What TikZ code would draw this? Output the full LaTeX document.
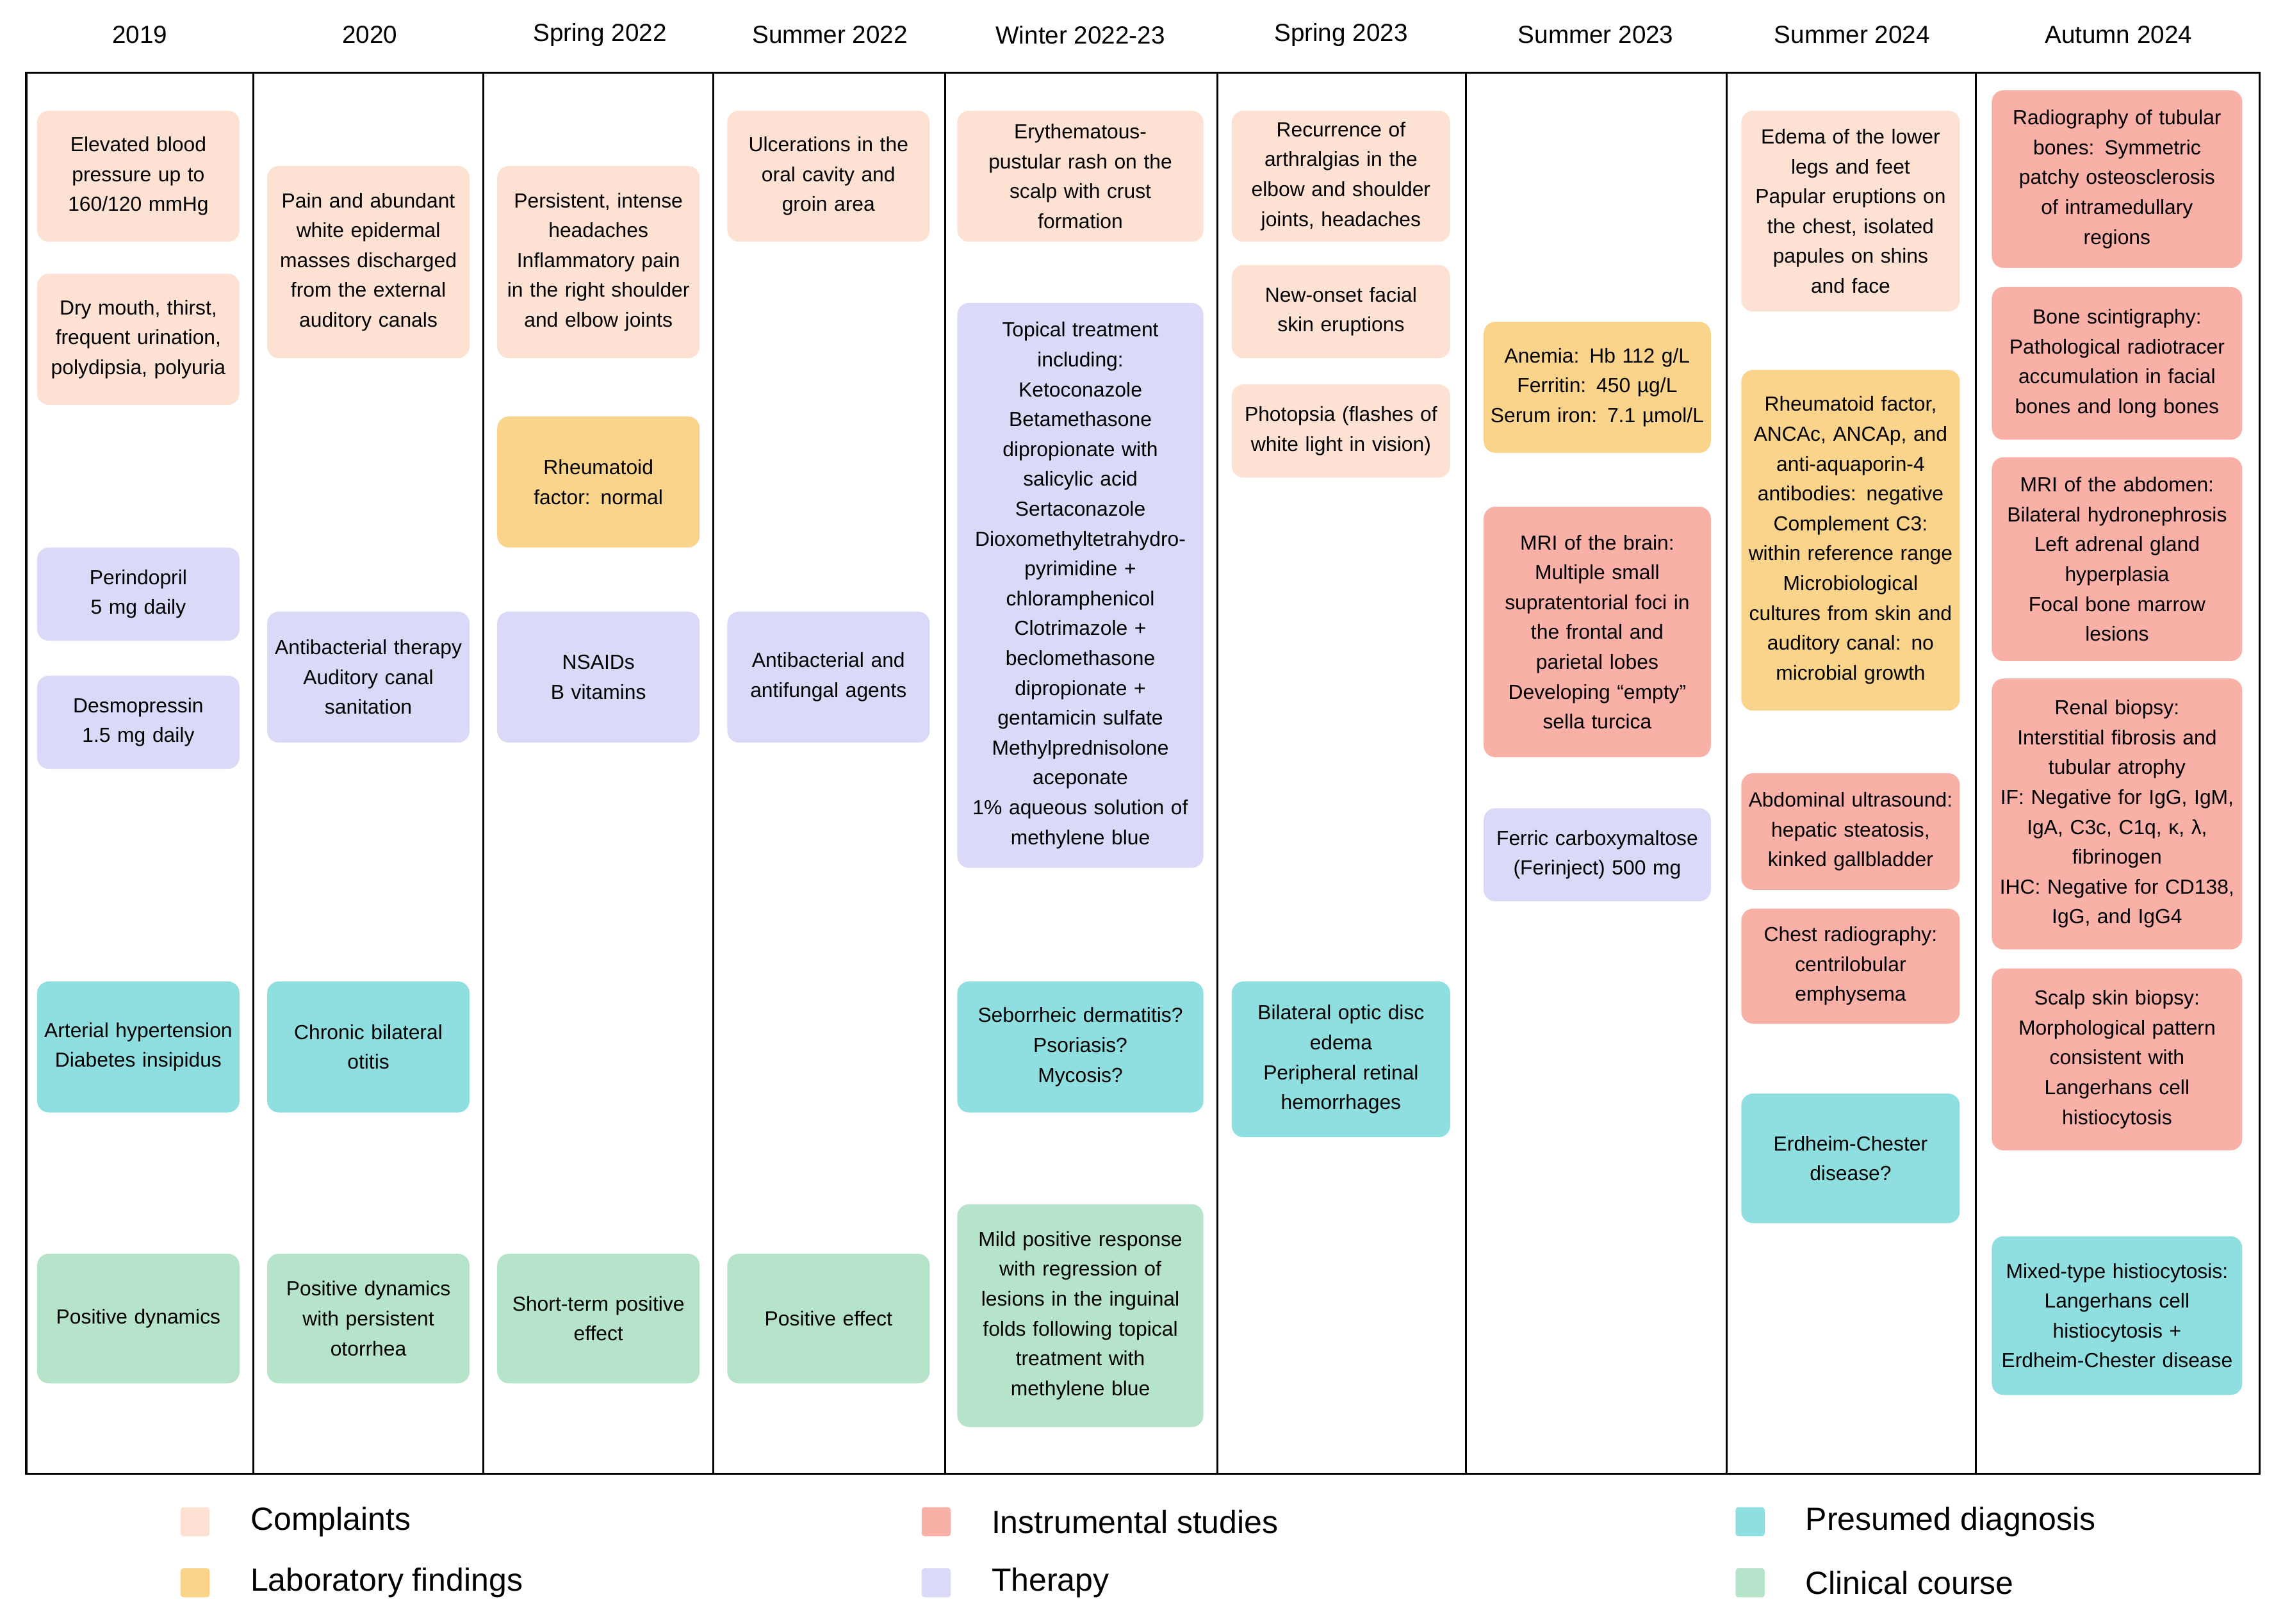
\documentclass[tikz,border=0pt]{standalone}
\usepackage{fontspec}
\setmainfont{Liberation Sans}
\definecolor{cC}{HTML}{FDE2D3}
\definecolor{cL}{HTML}{FBD48C}
\definecolor{cI}{HTML}{F8B0A7}
\definecolor{cT}{HTML}{DADAF8}
\definecolor{cD}{HTML}{90DFE0}
\definecolor{cK}{HTML}{B5E4CA}
\tikzset{bxs/.style={rounded corners=4pt,draw=none,align=center,inner sep=0pt,font=\fontsize{7}{10.25}\selectfont},
C/.style={bxs,fill=cC},L/.style={bxs,fill=cL},I/.style={bxs,fill=cI},T/.style={bxs,fill=cT},D/.style={bxs,fill=cD},K/.style={bxs,fill=cK},
hdr/.style={font=\fontsize{8.5}{10}\selectfont},
leg/.style={font=\fontsize{11}{13}\selectfont,anchor=west},
sq/.style={minimum size=10pt,inner sep=0pt,rounded corners=1pt}}
\newcommand\bx[7]{\pgfmathsetmacro\mc{(#4+#5)/2}\pgfmathsetmacro\hh{(#5-#4)*0.5}\pgfmathsetmacro\ww{#6*0.5}\pgfmathsetmacro\tw{#6*0.5-4}%
\node[#2,minimum width=\ww pt,minimum height=\hh pt,text width=\tw pt] (#1) at (#3,\mc) {#7};}
\begin{document}
\begin{tikzpicture}[x=0.5pt,y=-0.5pt]
\useasboundingbox (0,0) rectangle (1568,1115);
\draw[line width=0.7pt] (18,50) rectangle (1552,1012);
\foreach \x in {174,332,490,649,836,1007,1186,1357}{\draw[line width=0.7pt] (\x,50)--(\x,1012);}
\foreach \x/\t in {96/2019,254/2020,412/Spring 2022,570/Summer 2022,742/Winter 2022-23,921/Spring 2023,1096/Summer 2023,1272/Summer 2024,1455/Autumn 2024}{\node[hdr] (h\x) at (\x,24) {\t};}
% col1
\bx{a1}{C}{95}{76}{166}{139}{Elevated blood\\pressure up to\\160/120 mmHg}
\bx{a2}{C}{95}{188}{278}{139}{Dry mouth, thirst,\\frequent urination,\\polydipsia, polyuria}
\bx{a3}{T}{95}{376}{440}{139}{Perindopril\\5 mg daily}
\bx{a4}{T}{95}{464}{528}{139}{Desmopressin\\1.5 mg daily}
\bx{a5}{D}{95}{674}{764}{139}{Arterial hypertension\\Diabetes insipidus}
\bx{a6}{K}{95}{861}{950}{139}{Positive dynamics}
% col2
\bx{b1}{C}{253}{114}{246}{139}{Pain and abundant\\white epidermal\\masses discharged\\from the external\\auditory canals}
\bx{b2}{T}{253}{420}{510}{139}{Antibacterial therapy\\Auditory canal\\sanitation}
\bx{b3}{D}{253}{674}{764}{139}{Chronic bilateral\\otitis}
\bx{b4}{K}{253}{861}{950}{139}{Positive dynamics\\with persistent\\otorrhea}
% col3
\bx{c1}{C}{411}{114}{246}{139}{Persistent, intense\\headaches\\Inflammatory pain\\in the right shoulder\\and elbow joints}
\bx{c2}{L}{411}{286}{376}{139}{Rheumatoid\\factor: normal}
\bx{c3}{T}{411}{420}{510}{139}{NSAIDs\\B vitamins}
\bx{c4}{K}{411}{861}{950}{139}{Short-term positive\\effect}
% col4
\bx{d1}{C}{569}{76}{166}{139}{Ulcerations in the\\oral cavity and\\groin area}
\bx{d2}{T}{569}{420}{510}{139}{Antibacterial and\\antifungal agents}
\bx{d3}{K}{569}{861}{950}{139}{Positive effect}
% col5
\bx{e1}{C}{742}{76}{166}{169}{Erythematous-\\pustular rash on the\\scalp with crust\\formation}
\bx{e2}{T}{742}{208}{596}{169}{Topical treatment\\including:\\Ketoconazole\\Betamethasone\\dipropionate with\\salicylic acid\\Sertaconazole\\Dioxomethyltetrahydro-\\pyrimidine +\\chloramphenicol\\Clotrimazole +\\beclomethasone\\dipropionate +\\gentamicin sulfate\\Methylprednisolone\\aceponate\\1\% aqueous solution of\\methylene blue}
\bx{e3}{D}{742}{674}{764}{169}{Seborrheic dermatitis?\\Psoriasis?\\Mycosis?}
\bx{e4}{K}{742}{827}{980}{169}{Mild positive response\\with regression of\\lesions in the inguinal\\folds following topical\\treatment with\\methylene blue}
% col6
\bx{f1}{C}{921}{76}{166}{150}{Recurrence of\\arthralgias in the\\elbow and shoulder\\joints, headaches}
\bx{f2}{C}{921}{182}{246}{150}{New-onset facial\\skin eruptions}
\bx{f3}{C}{921}{264}{328}{150}{Photopsia (flashes of\\white light in vision)}
\bx{f4}{D}{921}{674}{781}{150}{Bilateral optic disc\\edema\\Peripheral retinal\\hemorrhages}
% col7
\bx{g1}{L}{1097}{221}{311}{156}{Anemia: Hb 112 g/L\\Ferritin: 450 µg/L\\Serum iron: 7.1 µmol/L}
\bx{g2}{I}{1097}{348}{520}{156}{MRI of the brain:\\Multiple small\\supratentorial foci in\\the frontal and\\parietal lobes\\Developing “empty”\\sella turcica}
\bx{g3}{T}{1097}{555}{619}{156}{Ferric carboxymaltose\\(Ferinject) 500 mg}
% col8
\bx{h1}{C}{1271}{76}{214}{150}{Edema of the lower\\legs and feet\\Papular eruptions on\\the chest, isolated\\papules on shins\\and face}
\bx{h2}{L}{1271}{254}{488}{150}{Rheumatoid factor,\\ANCAc, ANCAp, and\\anti-aquaporin-4\\antibodies: negative\\Complement C3:\\within reference range\\Microbiological\\cultures from skin and\\auditory canal: no\\microbial growth}
\bx{h3}{I}{1271}{531}{611}{150}{Abdominal ultrasound:\\hepatic steatosis,\\kinked gallbladder}
\bx{h4}{I}{1271}{624}{703}{150}{Chest radiography:\\centrilobular\\emphysema}
\bx{h5}{D}{1271}{751}{840}{150}{Erdheim-Chester\\disease?}
% col9
\bx{i1}{I}{1454}{62}{184}{172}{Radiography of tubular\\bones: Symmetric\\patchy osteosclerosis\\of intramedullary\\regions}
\bx{i2}{I}{1454}{197}{302}{172}{Bone scintigraphy:\\Pathological radiotracer\\accumulation in facial\\bones and long bones}
\bx{i3}{I}{1454}{314}{454}{172}{MRI of the abdomen:\\Bilateral hydronephrosis\\Left adrenal gland\\hyperplasia\\Focal bone marrow\\lesions}
\bx{i4}{I}{1454}{466}{652}{172}{Renal biopsy:\\Interstitial fibrosis and\\tubular atrophy\\IF: Negative for IgG, IgM,\\IgA, C3c, C1q, κ, λ,\\fibrinogen\\IHC: Negative for CD138,\\IgG, and IgG4}
\bx{i5}{I}{1454}{665}{790}{172}{Scalp skin biopsy:\\Morphological pattern\\consistent with\\Langerhans cell\\histiocytosis}
\bx{i6}{D}{1454}{849}{958}{172}{Mixed-type histiocytosis:\\Langerhans cell\\histiocytosis +\\Erdheim-Chester disease}
% legend
\node[sq,fill=cC] (q1) at (134,1045) {}; \node[leg] (l1) at (165,1045) {Complaints};
\node[sq,fill=cL] (q2) at (134,1087) {}; \node[leg] (l2) at (165,1087) {Laboratory findings};
\node[sq,fill=cI] (q3) at (643,1045) {}; \node[leg] (l3) at (674,1045) {Instrumental studies};
\node[sq,fill=cT] (q4) at (643,1087) {}; \node[leg] (l4) at (674,1087) {Therapy};
\node[sq,fill=cD] (q5) at (1202,1045) {}; \node[leg] (l5) at (1233,1045) {Presumed diagnosis};
\node[sq,fill=cK] (q6) at (1202,1087) {}; \node[leg] (l6) at (1233,1087) {Clinical course};
\end{tikzpicture}
\end{document}
